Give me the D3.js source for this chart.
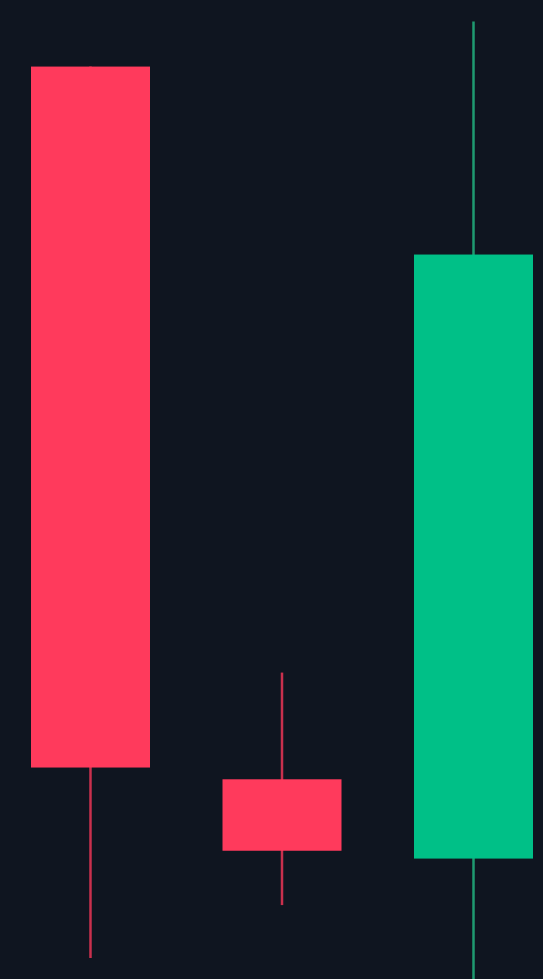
<!DOCTYPE html>
<html>
<head>
<meta charset="utf-8">
<script src="https://cdn.jsdelivr.net/npm/d3@7"></script>
<style>
  html, body { margin: 0; padding: 0; background: #0f1520; }
  svg { display: block; }
</style>
</head>
<body>
<svg id="chart" width="543" height="979"></svg>
<script>
// Data
const categories = ["C1", "C2", "C3"];
const openValues  = [93.2, 20.4, 12.3];
const highValues  = [93.2, 31.3, 97.8];
const lowValues   = [2.15, 7.55, -5.0];
const closeValues = [21.6, 13.1, 74.0];

const W = 543, H = 979;
const svg = d3.select("#chart");

svg.append("rect").attr("width", W).attr("height", H).attr("fill", "#0f1520");

const x = d3.scaleBand()
  .domain(categories)
  .range([31, 533])
  .paddingInner(0.3786)
  .paddingOuter(0);

const y = d3.scaleLinear()
  .domain([0, 100])
  .range([H, 0]);

const data = categories.map((c, i) => ({
  c, open: openValues[i], high: highValues[i], low: lowValues[i], close: closeValues[i]
}));

const up = "#00c087", down = "#ff3a5c";
const upWick = "#1f9a70", downWick = "#c9304d";

const g = svg.append("g");

g.selectAll("line.wick")
  .data(data)
  .join("line")
  .attr("class", "wick")
  .attr("x1", d => x(d.c) + x.bandwidth() / 2)
  .attr("x2", d => x(d.c) + x.bandwidth() / 2)
  .attr("y1", d => y(d.high))
  .attr("y2", d => y(d.low))
  .attr("stroke", d => d.close >= d.open ? upWick : downWick)
  .attr("stroke-width", 2.5);

g.selectAll("rect.body")
  .data(data)
  .join("rect")
  .attr("class", "body")
  .attr("x", d => x(d.c))
  .attr("width", x.bandwidth())
  .attr("y", d => y(Math.max(d.open, d.close)))
  .attr("height", d => Math.abs(y(d.open) - y(d.close)))
  .attr("fill", d => d.close >= d.open ? up : down);
</script>
</body>
</html>
